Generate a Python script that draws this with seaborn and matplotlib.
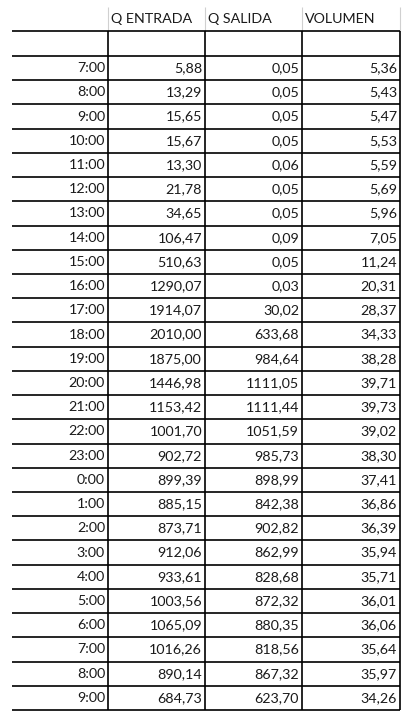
import matplotlib
matplotlib.use("Agg")
import matplotlib.pyplot as plt
import seaborn as sns

horas = ["7:00", "8:00", "9:00", "10:00", "11:00", "12:00", "13:00", "14:00", "15:00",
         "16:00", "17:00", "18:00", "19:00", "20:00", "21:00", "22:00", "23:00", "0:00",
         "1:00", "2:00", "3:00", "4:00", "5:00", "6:00", "7:00", "8:00", "9:00"]
q_entrada = [5.88, 13.29, 15.65, 15.67, 13.30, 21.78, 34.65, 106.47, 510.63, 1290.07,
             1914.07, 2010.00, 1875.00, 1446.98, 1153.42, 1001.70, 902.72, 899.39,
             885.15, 873.71, 912.06, 933.61, 1003.56, 1065.09, 1016.26, 890.14, 684.73]
q_salida = [0.05, 0.05, 0.05, 0.05, 0.06, 0.05, 0.05, 0.09, 0.05, 0.03, 30.02, 633.68,
            984.64, 1111.05, 1111.44, 1051.59, 985.73, 898.99, 842.38, 902.82, 862.99,
            828.68, 872.32, 880.35, 818.56, 867.32, 623.70]
volumen = [5.36, 5.43, 5.47, 5.53, 5.59, 5.69, 5.96, 7.05, 11.24, 20.31, 28.37, 34.33,
           38.28, 39.71, 39.73, 39.02, 38.30, 37.41, 36.86, 36.39, 35.94, 35.71, 36.01,
           36.06, 35.64, 35.97, 34.26]
encabezados = ["Q ENTRADA", "Q SALIDA", "VOLUMEN"]

sns.set_style("white")
plt.rcParams['font.family'] = ['Lato', 'DejaVu Sans']

fig = plt.figure(figsize=(4.09, 7.18), dpi=100)
ax = fig.add_axes([0, 0, 1, 1])
ax.set_xlim(0, 409)
ax.set_ylim(718, 0)
ax.axis("off")

col_x = [12, 108, 205, 302, 400]
y_head = 31
y_top = 56
n = len(horas)
row_h = (710 - y_top) / n
fs = 10.3

# encabezado
for j, h in enumerate(encabezados):
    ax.text(col_x[j + 1] + 3, 19, h, ha="left", va="center", fontsize=fs, color="#1a1a1a")
ax.vlines(col_x[1:], 7, y_head, color="#d0d0d0", lw=0.8)

# lineas de la tabla
ys = [y_head, y_top] + [y_top + row_h * (i + 1) for i in range(n)]
ax.hlines(ys, col_x[0], col_x[-1], color="black", lw=1.2)
ax.vlines(col_x[1:], y_head, ys[-1], color="black", lw=1.2)

def fmt(v):
    return f"{v:.2f}".replace(".", ",")

for i in range(n):
    yc = y_top + row_h * (i + 0.5)
    fila = [horas[i], fmt(q_entrada[i]), fmt(q_salida[i]), fmt(volumen[i])]
    for j, t in enumerate(fila):
        ax.text(col_x[j + 1] - 3, yc, t, ha="right", va="center", fontsize=fs, color="#1a1a1a")

fig.savefig("out.png", dpi=100)
